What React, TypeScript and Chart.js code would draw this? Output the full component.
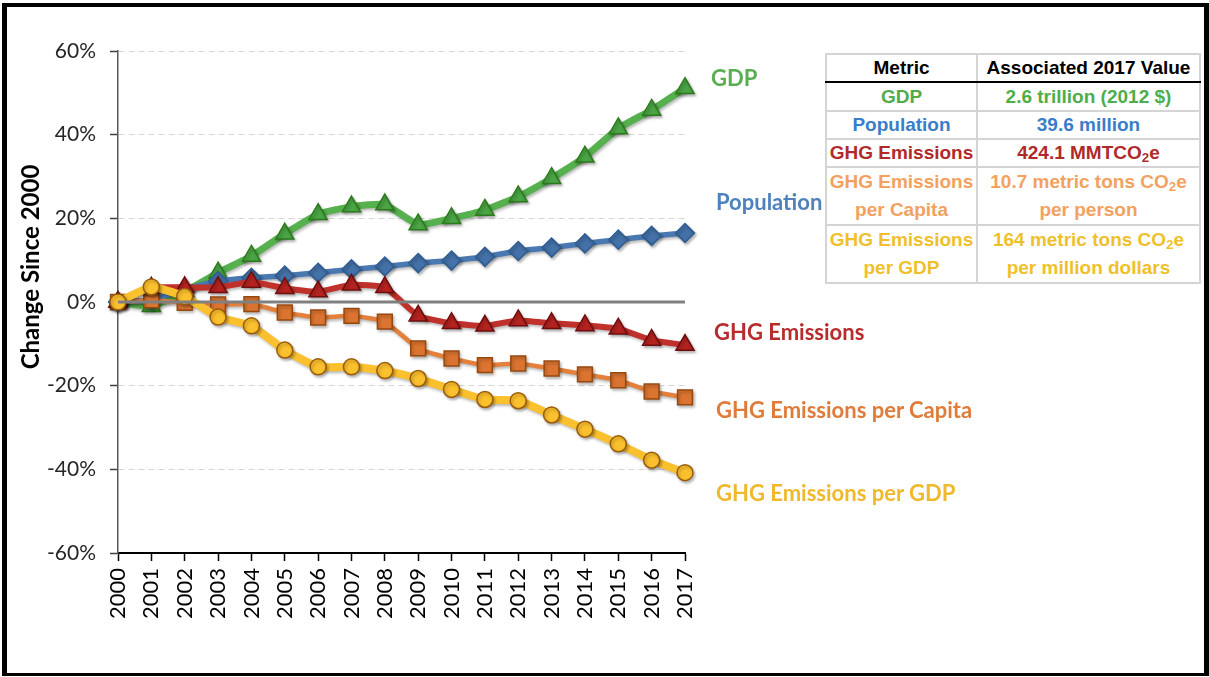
import React, { useEffect, useRef } from "react";
import { Chart, registerables } from "chart.js";

Chart.register(...registerables);

const years = ["2000","2001","2002","2003","2004","2005","2006","2007","2008","2009","2010","2011","2012","2013","2014","2015","2016","2017"];
const gdp = [0, -1.0, 2.5, 7.0, 11.0, 16.3, 21.0, 22.8, 23.3, 18.5, 20.0, 22.0, 25.2, 29.6, 34.7, 41.5, 45.9, 51.1];
const population = [0, 0.5, 3.0, 5.0, 5.8, 6.3, 7.0, 7.8, 8.5, 9.3, 9.9, 10.8, 12.2, 13.0, 14.0, 14.9, 15.8, 16.5];
const ghg = [0, 3.4, 3.5, 3.5, 4.8, 3.3, 2.5, 4.1, 3.5, -3.3, -5.1, -5.7, -4.4, -5.1, -5.6, -6.4, -9.1, -10.3];
const ghgPerCapita = [0, 0.4, -0.2, -0.6, -0.5, -2.5, -3.7, -3.3, -4.7, -11.1, -13.5, -15.1, -14.7, -15.9, -17.3, -18.7, -21.4, -22.8];
const ghgPerGdp = [0, 3.6, 1.3, -3.6, -5.7, -11.5, -15.5, -15.5, -16.4, -18.3, -20.9, -23.3, -23.6, -27.0, -30.4, -33.9, -37.8, -40.8];

const yTicks = [-60, -40, -20, 0, 20, 40, 60];
const seriesNames = ["GDP", "Population", "GHG Emissions", "GHG Emissions per Capita", "GHG Emissions per GDP"];
const tableHeader = ["Metric", "Associated 2017 Value"];
const tableMetrics = [["GDP"], ["Population"], ["GHG Emissions"], ["GHG Emissions", "per Capita"], ["GHG Emissions", "per GDP"]];
const tableValues = [["2.6 trillion (2012 $)"], ["39.6 million"], ["424.1 MMTCO\u2082e"], ["10.7 metric tons CO\u2082e", "per person"], ["164 metric tons CO\u2082e", "per million dollars"]];
const tableColors = ["#4fad4a", "#3a7dc9", "#b02a2a", "#f3a15e", "#f0c02c"];
const labelColors = ["#5aae52", "#4f81bd", "#b72c2c", "#e07b39", "#f0b92c"];

const zeroLine = {
  id: "zeroLine",
  afterDatasetsDraw(chart: any) {
    const { ctx, chartArea, scales } = chart;
    const py = scales.y.getPixelForValue(0);
    ctx.save();
    ctx.strokeStyle = "#808080";
    ctx.lineWidth = 3;
    ctx.beginPath();
    ctx.moveTo(chartArea.left, py);
    ctx.lineTo(chartArea.right, py);
    ctx.stroke();
    ctx.restore();
  },
};

const shadow = {
  id: "shadow",
  beforeDatasetsDraw(chart: any) {
    const ctx = chart.ctx;
    ctx.save();
    ctx.shadowColor = "rgba(0,0,0,0.28)";
    ctx.shadowBlur = 3;
    ctx.shadowOffsetX = 1.5;
    ctx.shadowOffsetY = 2;
  },
  afterDatasetsDraw(chart: any) {
    chart.ctx.restore();
  },
};

function ChartCanvas() {
  const ref = useRef<HTMLCanvasElement | null>(null);
  useEffect(() => {
    if (!ref.current) return;
    const mk = (label: string, data: number[], line: string, fill: string, border: string, style: any, radius: number, width: number) => ({
      label,
      data,
      borderColor: line,
      borderWidth: width,
      backgroundColor: fill,
      pointBackgroundColor: fill,
      pointBorderColor: border,
      pointBorderWidth: 1.5,
      pointStyle: style,
      pointRadius: radius,
      tension: 0.15,
      clip: false as any,
    });
    const chart = new Chart(ref.current, {
      type: "line",
      data: {
        labels: years,
        datasets: [
          mk(seriesNames[4], ghgPerGdp, "#fbc02d", "#fbc02d", "#9a5c0a", "circle", 8, 8),
          mk(seriesNames[2], ghg, "#c1312b", "#b5231f", "#6e0e0e", "triangle", 10.5, 6),
          mk(seriesNames[3], ghgPerCapita, "#e2803c", "#db7430", "#96480f", "rect", 10.5, 4.5),
          mk(seriesNames[1], population, "#4a78b0", "#4472a8", "#2f5c92", "rectRot", 9.5, 5.5),
          mk(seriesNames[0], gdp, "#56b04e", "#4aa545", "#2d7a1c", "triangle", 10.5, 7),
        ],
      },
      options: {
        animation: false,
        responsive: false,
        events: [],
        layout: { padding: { top: 51, right: 524, bottom: 0, left: 0 } },
        plugins: { legend: { display: false }, tooltip: { enabled: false } },
        scales: {
          x: {
            type: "category",
            offset: false,
            afterFit: (s: any) => { s.height = 124; },
            grid: { display: true, drawOnChartArea: false, drawTicks: true, tickLength: 8, tickColor: "#000", tickWidth: 1.5 },
            border: { display: true, color: "#000", width: 2 },
            ticks: { autoSkip: false, minRotation: 90, maxRotation: 90, padding: 7, color: "#000", font: { family: "Lato", size: 22 } },
          },
          y: {
            min: -60,
            max: 60,
            afterFit: (s: any) => { s.width = 118; },
            afterBuildTicks: (s: any) => { s.ticks = yTicks.map((v) => ({ value: v })); },
            grid: {
              color: (c: any) => (c.tick && (c.tick.value === 0 || c.tick.value === -60) ? "rgba(0,0,0,0)" : "#d6d6d6"),
              lineWidth: 1,
              drawTicks: true,
              tickLength: 8,
              tickColor: "#404040",
              tickWidth: 1.5,
              tickBorderDash: [],
            },
            border: { display: true, color: "#595959", width: 1.5, dash: [6, 4] },
            ticks: { padding: 14, color: "#262626", font: { family: "Lato", size: 21 }, callback: (v: any) => `${v}%` },
          },
        },
      },
      plugins: [shadow, zeroLine],
    });
    return () => chart.destroy();
  }, []);
  return <canvas ref={ref} width={1209} height={677} style={{ position: "absolute", left: 0, top: 0, width: 1209, height: 677 }} />;
}

const labelPos = [
  { left: 711, cy: 78 },
  { left: 716, cy: 202 },
  { left: 714, cy: 332 },
  { left: 716, cy: 410 },
  { left: 716, cy: 493 },
];

function renderText(t: string) {
  const parts = t.split("\u2082");
  if (parts.length === 1) return t;
  return (
    <>
      {parts[0]}
      <span style={{ fontSize: "0.7em", position: "relative", top: "0.25em", lineHeight: 0 }}>2</span>
      {parts[1]}
    </>
  );
}

const rowHeights = [29, 28, 28, 58, 58];

export default function App() {
  const cellBase: React.CSSProperties = {
    border: "2px solid #d4d4d4",
    textAlign: "center",
    verticalAlign: "middle",
    padding: 0,
    lineHeight: "26px",
  };
  return (
    <div style={{ position: "absolute", left: 0, top: 0, width: 1209, height: 677, background: "#fff", overflow: "hidden" }}>
      <ChartCanvas />
      {seriesNames.map((n, i) => (
        <div key={n} style={{ position: "absolute", left: labelPos[i].left, top: labelPos[i].cy - 12, lineHeight: "24px", fontFamily: "Lato", fontWeight: 700, fontSize: 22, color: labelColors[i], whiteSpace: "nowrap" }}>{n}</div>
      ))}
      <div style={{ position: "absolute", left: 30 - 120, top: 267 - 14, width: 240, height: 28, lineHeight: "28px", textAlign: "center", transform: "rotate(-90deg)", fontFamily: "Lato", fontWeight: 700, fontSize: 24, color: "#000", whiteSpace: "nowrap" }}>Change Since 2000</div>
      <table style={{ position: "absolute", left: 825, top: 53, width: 376, borderCollapse: "collapse", fontFamily: "'Liberation Sans', Arial, sans-serif", fontWeight: 700, fontSize: 19, background: "#fff" }}>
        <tbody>
          <tr style={{ height: 28 }}>
            <td style={{ ...cellBase, width: 149, borderBottom: "2px solid #000", color: "#000" }}>{tableHeader[0]}</td>
            <td style={{ ...cellBase, borderBottom: "2px solid #000", color: "#000" }}>{tableHeader[1]}</td>
          </tr>
          {tableMetrics.map((m, i) => (
            <tr key={i} style={{ height: rowHeights[i] }}>
              <td style={{ ...cellBase, color: tableColors[i], lineHeight: m.length > 1 ? "28px" : "26px" }}>
                {m.map((l, j) => (<div key={j}>{l}</div>))}
              </td>
              <td style={{ ...cellBase, color: tableColors[i], lineHeight: m.length > 1 ? "28px" : "26px" }}>
                {tableValues[i].map((l, j) => (<div key={j}>{renderText(l)}</div>))}
              </td>
            </tr>
          ))}
        </tbody>
      </table>
      <div style={{ position: "absolute", left: 2, top: 3, width: 1207, height: 673, boxSizing: "border-box", borderStyle: "solid", borderColor: "#000", borderWidth: "4px 5px 3px 5px" }} />
    </div>
  );
}
